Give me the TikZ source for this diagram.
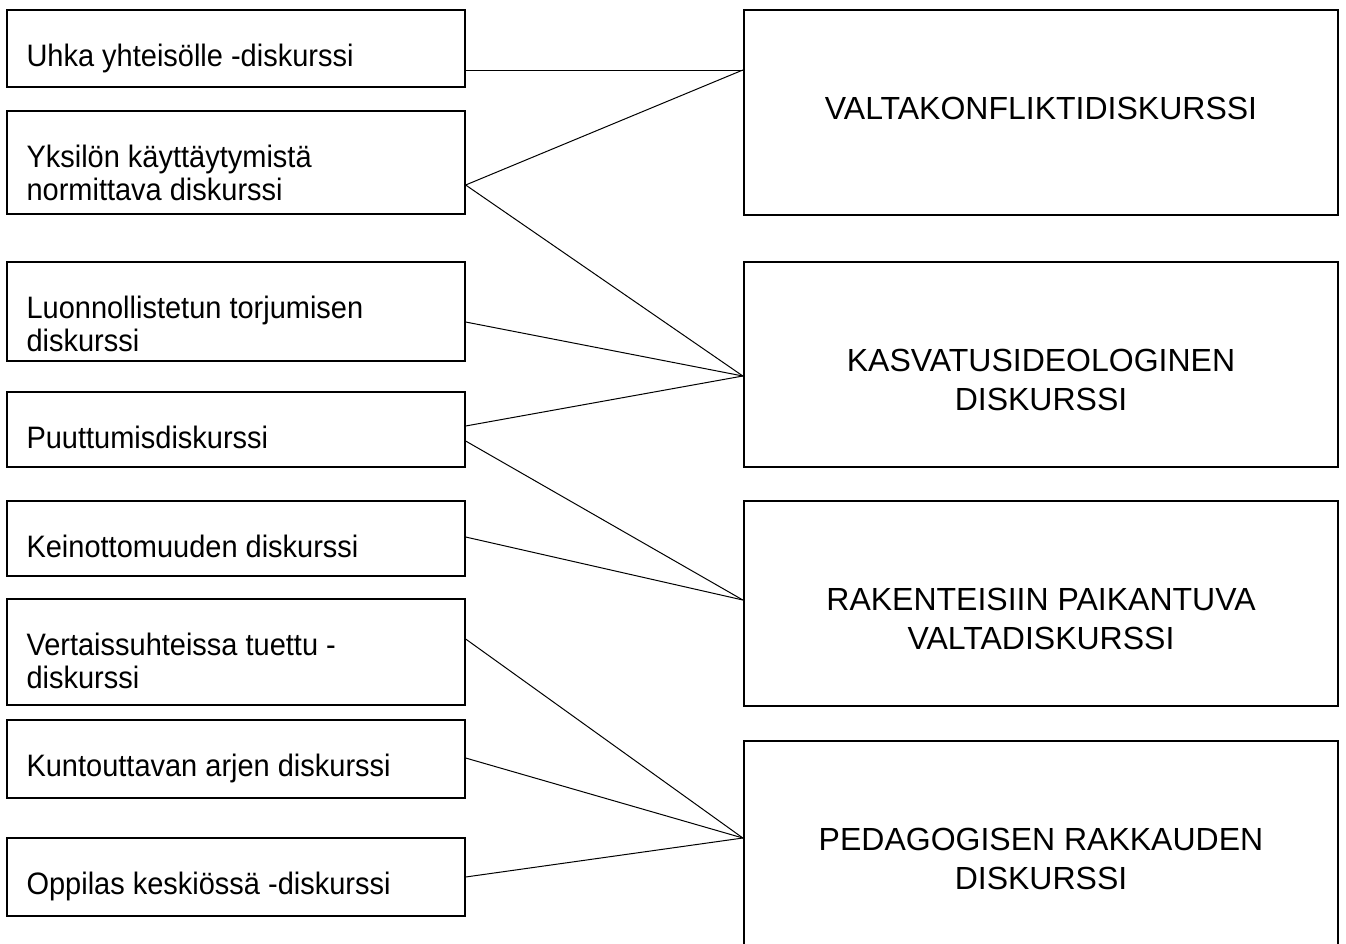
\documentclass[tikz,border=0pt]{standalone}
\usepackage{fontspec}
\setmainfont{Liberation Sans}
\newfontfamily\leftfont[FakeStretch=0.935]{Liberation Sans}
\begin{document}
\begin{tikzpicture}[x=1pt,y=-1pt,
  lbox/.style={draw=black,line width=1.3pt,rectangle,minimum width=458pt,inner sep=0pt},
  rbox/.style={draw=black,line width=2.3pt,rectangle,minimum width=594pt,minimum height=205pt,inner sep=0pt},
  ltext/.style={anchor=north west,inner sep=0pt,align=left,font=\leftfont\fontsize{31}{33}\selectfont},
  rtext/.style={anchor=north,inner sep=0pt,align=center,font=\fontsize{32}{39}\selectfont},
  conn/.style={draw=black,line width=1pt}]
\clip (0,0) rectangle (1346,943);
\fill[white] (0,0) rectangle (1346,943);
% left boxes
\node[lbox,minimum height=77pt]  (l1) at (236,48.5)  {};
\node[lbox,minimum height=103pt] (l2) at (236,162.5) {};
\node[lbox,minimum height=99pt]  (l3) at (236,311.5) {};
\node[lbox,minimum height=75pt]  (l4) at (236,429.5) {};
\node[lbox,minimum height=75pt]  (l5) at (236,538.5) {};
\node[lbox,minimum height=106pt] (l6) at (236,652)   {};
\node[lbox,minimum height=78pt]  (l7) at (236,759)   {};
\node[lbox,minimum height=78pt]  (l8) at (236,877)   {};
% right boxes
\node[rbox] (r1) at (1041,112.5) {};
\node[rbox] (r2) at (1041,364.5) {};
\node[rbox] (r3) at (1041,603.5) {};
\node[rbox,minimum height=209pt] (r4) at (1041,845.5) {};
% left texts
\node[ltext] (t1) at ([shift={(20,33.4)}]l1.north west) {\strut Uhka yhteisölle -diskurssi};
\node[ltext] (t2) at ([shift={(20,33.4)}]l2.north west) {\strut Yksilön käyttäytymistä\\normittava diskurssi};
\node[ltext] (t3) at ([shift={(20,33.4)}]l3.north west) {\strut Luonnollistetun torjumisen\\diskurssi};
\node[ltext] (t4) at ([shift={(20,33.4)}]l4.north west) {\strut Puuttumisdiskurssi};
\node[ltext] (t5) at ([shift={(20,33.4)}]l5.north west) {\strut Keinottomuuden diskurssi};
\node[ltext] (t6) at ([shift={(20,33.4)}]l6.north west) {\strut Vertaissuhteissa tuettu -\\diskurssi};
\node[ltext] (t7) at ([shift={(20,33.4)}]l7.north west) {\strut Kuntouttavan arjen diskurssi};
\node[ltext] (t8) at ([shift={(20,33.4)}]l8.north west) {\strut Oppilas keskiössä -diskurssi};
% right texts
\node[rtext] (s1) at ([shift={(0,82.7)}]r1.north) {\strut VALTAKONFLIKTIDISKURSSI};
\node[rtext] (s2) at ([shift={(0,82.7)}]r2.north) {\strut KASVATUSIDEOLOGINEN\\DISKURSSI};
\node[rtext] (s3) at ([shift={(0,82.7)}]r3.north) {\strut RAKENTEISIIN PAIKANTUVA\\VALTADISKURSSI};
\node[rtext] (s4) at ([shift={(0,82.7)}]r4.north) {\strut PEDAGOGISEN RAKKAUDEN\\DISKURSSI};
% connectors
\draw[conn] ([shift={(0,21.5)}]l1.east) -- ([shift={(0,-42.5)}]r1.west);
\draw[conn] ([shift={(0,22.5)}]l2.east) -- ([shift={(0,-42.5)}]r1.west);
\draw[conn] ([shift={(0,22.5)}]l2.east) -- ([shift={(0,11.5)}]r2.west);
\draw[conn] ([shift={(0,10.5)}]l3.east) -- ([shift={(0,11.5)}]r2.west);
\draw[conn] ([shift={(0,-3.5)}]l4.east) -- ([shift={(0,11.5)}]r2.west);
\draw[conn] ([shift={(0,11.5)}]l4.east) -- ([shift={(0,-3.5)}]r3.west);
\draw[conn] ([shift={(0,-1.5)}]l5.east) -- ([shift={(0,-3.5)}]r3.west);
\draw[conn] ([shift={(0,-13)}]l6.east) -- ([shift={(0,-7.5)}]r4.west);
\draw[conn] ([shift={(0,-1)}]l7.east) -- ([shift={(0,-7.5)}]r4.west);
\draw[conn] ([shift={(0,0)}]l8.east) -- ([shift={(0,-7.5)}]r4.west);
\end{tikzpicture}
\end{document}
